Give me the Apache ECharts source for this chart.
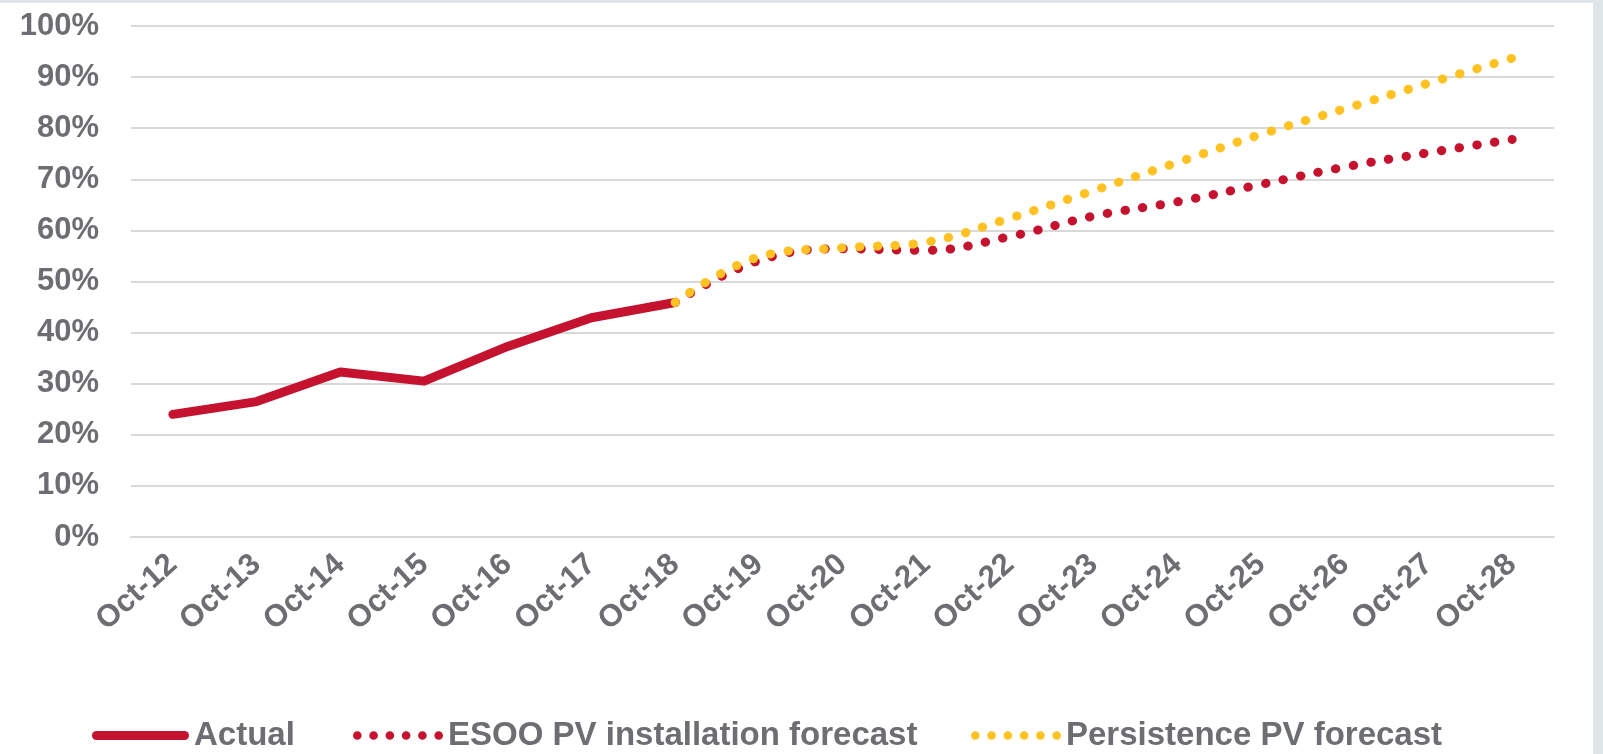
<!DOCTYPE html>
<html>
<head>
<meta charset="utf-8">
<script src="https://cdn.jsdelivr.net/npm/echarts@6/dist/echarts.min.js"></script>
<style>
  html, body { margin: 0; padding: 0; width: 1603px; height: 754px; background: #dfe6e9; overflow: hidden; }
  #chart { position: absolute; left: 0; top: 3px; width: 1593px; height: 751px; background: #ffffff; }
</style>
</head>
<body>
<div id="chart"></div>
<script>
// ---- data ----
const categories = ['Oct-12','Oct-13','Oct-14','Oct-15','Oct-16','Oct-17','Oct-18','Oct-19','Oct-20','Oct-21','Oct-22','Oct-23','Oct-24','Oct-25','Oct-26','Oct-27','Oct-28'];
const actual = [24.0, 26.5, 32.3, 30.5, 37.3, 42.9, 45.9, null, null, null, null, null, null, null, null, null, null];
const esooForecast = [null, null, null, null, null, null, 45.9, 54.1, 56.4, 56.1, 58.8, 62.8, 65.6, 69.0, 72.4, 75.2, 77.8];
const persistenceForecast = [null, null, null, null, null, null, 45.9, 54.8, 56.6, 57.7, 62.4, 67.8, 73.3, 78.8, 83.8, 88.8, 93.7];
const yTicks = [0, 10, 20, 30, 40, 50, 60, 70, 80, 90, 100];
const seriesNames = ['Actual', 'ESOO PV installation forecast', 'Persistence PV forecast'];

// ---- style ----
const RED = '#c4122f';
const YELLOW = '#ffc222';
const GREY_TEXT = '#6d6e71';
const GRID = '#d9d9d9';
const FONT = '"Liberation Sans", Arial, sans-serif';
const DOTS = [0.5, 17.4];

// legend icons
const ICON_BAR = 'path://M4.5,0 H92.5 A4.5,4.5 0 0 1 92.5,9 H4.5 A4.5,4.5 0 0 1 4.5,0 Z';
let dotPath = 'path://';
for (let k = 0; k < 6; k++) {
  const cx = 4.5 + 16.2 * k;
  dotPath += 'M' + (cx - 4.3) + ',4.5 A4.3,4.3 0 1 0 ' + (cx + 4.3) + ',4.5 A4.3,4.3 0 1 0 ' + (cx - 4.3) + ',4.5 Z ';
}
const ICON_DOTS = dotPath.trim();

const legendText = { color: GREY_TEXT, fontSize: 33, fontWeight: 'bold', fontFamily: FONT };
function legendAt(name, icon, left, w) {
  return {
    left: left, top: 711, itemWidth: w, itemHeight: 9, itemGap: 0,
    data: [{ name: name, icon: icon }],
    textStyle: legendText,
    selectedMode: false
  };
}

const chart = echarts.init(document.getElementById('chart'), null, { renderer: 'canvas' });
chart.setOption({
  animation: false,
  backgroundColor: '#ffffff',
  grid: { left: 131, right: 39, top: 23, bottom: 217, containLabel: false },
  legend: [
    legendAt(seriesNames[0], ICON_BAR, 87, 97),
    legendAt(seriesNames[1], ICON_DOTS, 348, 90),
    legendAt(seriesNames[2], ICON_DOTS, 966, 90)
  ],
  xAxis: {
    type: 'category',
    data: categories,
    boundaryGap: true,
    axisLine: { lineStyle: { color: GRID, width: 2 } },
    axisTick: { length: 11, lineStyle: { color: GRID, width: 2 } },
    axisLabel: { rotate: 42, margin: 23, color: GREY_TEXT, fontSize: 31, fontWeight: 'bold', fontFamily: FONT, interval: 0 },
    splitLine: { show: false }
  },
  yAxis: {
    type: 'value',
    min: yTicks[0], max: yTicks[yTicks.length - 1], interval: 10,
    axisLine: { show: false },
    axisTick: { show: false },
    axisLabel: { margin: 32, color: GREY_TEXT, fontSize: 31, fontWeight: 'bold', fontFamily: FONT, formatter: v => v + '%' },
    splitLine: { lineStyle: { color: GRID, width: 2 } }
  },
  series: [
    {
      name: seriesNames[0], type: 'line', data: actual,
      symbol: 'none', connectNulls: false,
      lineStyle: { color: RED, width: 9, cap: 'round', join: 'round' },
      itemStyle: { color: RED }
    },
    {
      name: seriesNames[1], type: 'line', data: esooForecast,
      symbol: 'none', smooth: 0.4,
      lineStyle: { color: RED, width: 9, type: DOTS, cap: 'round' },
      itemStyle: { color: RED }
    },
    {
      name: seriesNames[2], type: 'line', data: persistenceForecast,
      symbol: 'none', smooth: 0.4,
      lineStyle: { color: YELLOW, width: 9, type: DOTS, cap: 'round' },
      itemStyle: { color: YELLOW }
    }
  ]
});
</script>
</body>
</html>
